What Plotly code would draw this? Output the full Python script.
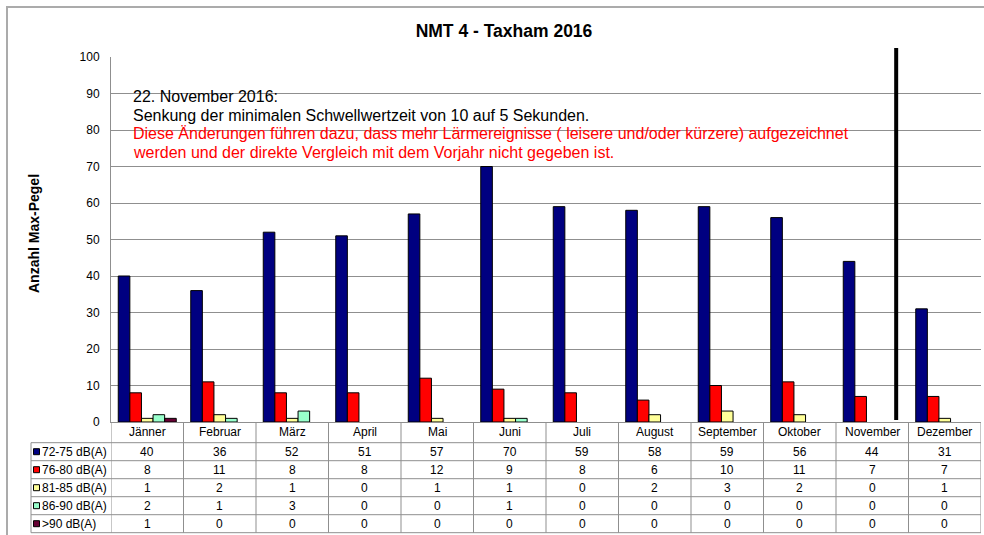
import plotly.graph_objects as go

# ---- data -------------------------------------------------------------
months = ["Jänner", "Februar", "März", "April", "Mai", "Juni", "Juli",
          "August", "September", "Oktober", "November", "Dezember"]
series_names = ["72-75 dB(A)", "76-80 dB(A)", "81-85 dB(A)", "86-90 dB(A)", ">90 dB(A)"]
db_72_75 = [40, 36, 52, 51, 57, 70, 59, 58, 59, 56, 44, 31]
db_76_80 = [8, 11, 8, 8, 12, 9, 8, 6, 10, 11, 7, 7]
db_81_85 = [1, 2, 1, 0, 1, 1, 0, 2, 3, 2, 0, 1]
db_86_90 = [2, 1, 3, 0, 0, 1, 0, 0, 0, 0, 0, 0]
db_over_90 = [1, 0, 0, 0, 0, 0, 0, 0, 0, 0, 0, 0]
y_ticks = [0, 10, 20, 30, 40, 50, 60, 70, 80, 90, 100]

note_lines = [
    ("22. November 2016:", "#000000"),
    ("Senkung der minimalen Schwellwertzeit von 10 auf 5 Sekunden.", "#000000"),
    ("Diese Änderungen führen dazu, dass mehr Lärmereignisse ( leisere und/oder kürzere) "
     "aufgezeichnet", "#FF0000"),
    ("werden und der direkte Vergleich mit dem Vorjahr nicht gegeben ist.", "#FF0000"),
]

series_values = [db_72_75, db_76_80, db_81_85, db_86_90, db_over_90]
colors = ["#000080", "#FF0000", "#FFFF99", "#99FFCC", "#660033"]

# ---- page geometry (pixels) -------------------------------------------
W, H = 984, 535
L, R, T, B = 111, 3, 57, 113
PW, PH = W - L - R, H - T - B
FONT = "Liberation Sans, Arial, sans-serif"
GRID = "#8f8f8f"


def px_x(px):
    return (px - L) / PW


def px_y(py):
    return (H - B - py) / PH


fig = go.Figure()
for name, vals, col in zip(series_names, series_values, colors):
    fig.add_trace(go.Bar(
        x=months,
        y=[v if v else None for v in vals],
        name=name,
        marker=dict(color=col, line=dict(color="#000000", width=1)),
        showlegend=False,
    ))

shapes = []
annotations = []

# outer chart frame
shapes.append(dict(type="rect", xref="paper", yref="paper",
                   x0=px_x(7), x1=px_x(995), y0=px_y(7), y1=px_y(548),
                   line=dict(color="#ababab", width=2), fillcolor="rgba(0,0,0,0)"))

# white box behind the note
shapes.append(dict(type="rect", xref="paper", yref="paper", layer="between",
                   x0=px_x(123), x1=px_x(884), y0=px_y(68), y1=px_y(162),
                   line=dict(width=0), fillcolor="#FFFFFF"))

# note text, one annotation per line for tighter leading
for k, (line, col) in enumerate(note_lines):
    annotations.append(dict(xref="paper", yref="paper", x=px_x(131), y=px_y(96.5 + 18.7 * k),
                            xanchor="left", yanchor="middle", align="left", showarrow=False,
                            text=line, font=dict(family=FONT, size=16, color=col)))

# vertical marker for the threshold change
shapes.append(dict(type="line", xref="x", yref="paper", x0=10.33, x1=10.33,
                   y0=px_y(420), y1=px_y(48),
                   line=dict(color="#000000", width=4)))

# ---- data table below the plot ----------------------------------------
header_bottom = 442.7
row_h = 18.0
row_tops = [header_bottom + i * row_h for i in range(len(series_names))]
table_bottom = header_bottom + len(series_names) * row_h
label_left = 31

# horizontal rules
for yy in [header_bottom] + [t + row_h for t in row_tops]:
    shapes.append(dict(type="line", xref="paper", yref="paper",
                       x0=px_x(label_left), x1=1, y0=px_y(yy), y1=px_y(yy),
                       line=dict(color=GRID, width=1)))
# vertical rules between month columns
for i in range(len(months) + 1):
    shapes.append(dict(type="line", xref="x", yref="paper",
                       x0=i - 0.5, x1=i - 0.5, y0=0, y1=px_y(table_bottom),
                       line=dict(color=GRID, width=1)))
shapes.append(dict(type="line", xref="paper", yref="paper",
                   x0=px_x(label_left), x1=px_x(label_left),
                   y0=px_y(header_bottom), y1=px_y(table_bottom),
                   line=dict(color=GRID, width=1)))

# month names
for i, m in enumerate(months):
    annotations.append(dict(xref="x", yref="paper", x=i, y=px_y((422 + header_bottom) / 2),
                            text=m, showarrow=False, xanchor="center", yanchor="middle",
                            font=dict(family=FONT, size=12, color="#000000")))

# rows: legend key, label, values
for r, (name, vals, col) in enumerate(zip(series_names, series_values, colors)):
    cy = row_tops[r] + row_h / 2
    shapes.append(dict(type="rect", xref="paper", yref="paper",
                       x0=px_x(33.5), x1=px_x(39.5), y0=px_y(cy - 3), y1=px_y(cy + 3),
                       fillcolor=col, line=dict(color="#000000", width=1)))
    annotations.append(dict(xref="paper", yref="paper", x=px_x(39.5), y=px_y(cy),
                            text=name, showarrow=False, xanchor="left", yanchor="middle",
                            font=dict(family=FONT, size=12, color="#000000")))
    for i, v in enumerate(vals):
        annotations.append(dict(xref="x", yref="paper", x=i, y=px_y(cy),
                                text=str(v), showarrow=False, xanchor="center",
                                yanchor="middle",
                                font=dict(family=FONT, size=12, color="#000000")))

# y-axis title
annotations.append(dict(xref="paper", yref="paper", x=px_x(34), y=px_y(234),
                        text="<b>Anzahl Max-Pegel</b>", textangle=-90, showarrow=False,
                        xanchor="center", yanchor="middle",
                        font=dict(family=FONT, size=14, color="#000000")))

fig.update_layout(
    width=W, height=H,
    margin=dict(l=L, r=R, t=T, b=B, pad=0),
    paper_bgcolor="#FFFFFF", plot_bgcolor="#FFFFFF",
    title=dict(text="<b>NMT 4 - Taxham 2016</b>", xref="container", yref="container",
               x=504 / W, y=1 - 31 / H, xanchor="center", yanchor="middle",
               font=dict(family=FONT, size=17.5, color="#000000")),
    barmode="group", bargap=0.2, bargroupgap=0,
    font=dict(family=FONT, size=12, color="#000000"),
    shapes=shapes, annotations=annotations,
    showlegend=False,
)
fig.update_xaxes(type="category", range=[-0.5, len(months) - 0.5], showticklabels=False,
                 showgrid=False, showline=True, linecolor=GRID, linewidth=1, ticks="",
                 zeroline=False, fixedrange=True)
fig.update_yaxes(range=[0, 100], tickvals=y_ticks, showgrid=True, gridcolor=GRID,
                 gridwidth=1, showline=True, linecolor=GRID, linewidth=1, ticks="",
                 ticklabelstandoff=8, zeroline=False, fixedrange=True,
                 tickfont=dict(family=FONT, size=12, color="#000000"))

fig.write_html("out.html")
